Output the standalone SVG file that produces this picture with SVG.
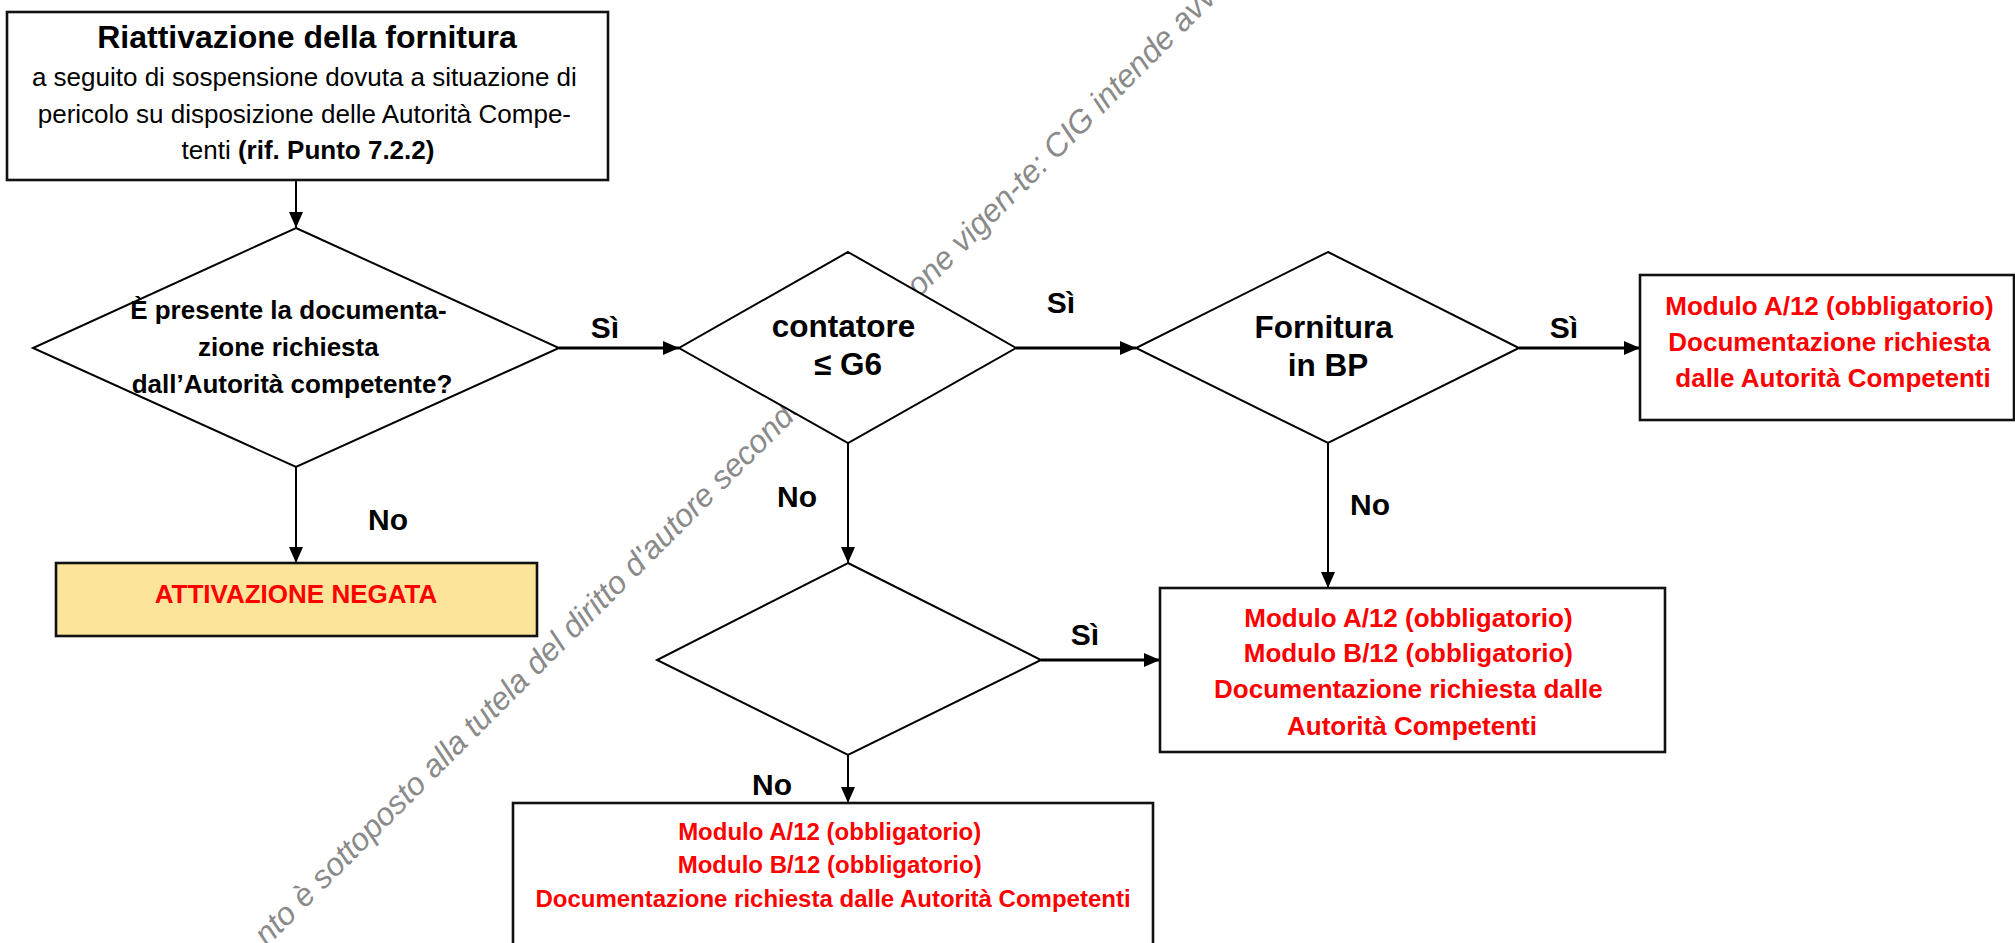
<svg xmlns="http://www.w3.org/2000/svg" width="2015" height="943" viewBox="0 0 2015 943">
  <style>
    .box { fill: #ffffff; stroke: #111111; stroke-width: 2.6; }
    .yellow { fill: #FDE49B; stroke: #111111; stroke-width: 2.6; }
    .dia { fill: #ffffff; stroke: #000000; stroke-width: 2; }
    .t { font-family: 'Liberation Sans', Arial, sans-serif; text-anchor: middle; fill: #000000; }
    .b { font-weight: bold; }
    .red { fill: #FF0000; }
    .lbl { font-family: 'Liberation Sans', Arial, sans-serif; font-weight: bold; font-size: 30px; text-anchor: middle; fill: #000000; }
    .wm { font-family: 'Liberation Sans', Arial, sans-serif; font-style: italic; font-size: 32px; fill: #8a8a8a; }
    .v { stroke: #000000; stroke-width: 2; fill: none; marker-end: url(#arr); }
    .h { stroke: #000000; stroke-width: 3; fill: none; marker-end: url(#arr); }
  </style>
  <defs>
    <marker id="arr" markerUnits="userSpaceOnUse" markerWidth="18" markerHeight="16" refX="16" refY="7" orient="auto">
      <path d="M0,0 L16,7 L0,14 z" fill="#000000"/>
    </marker>
  </defs>

  <rect width="2015" height="943" fill="#ffffff"/>

  <!-- watermark (behind nodes) -->
  <g id="watermark">
    <text class="wm" transform="translate(267,947) rotate(-45)">nto è sottoposto alla tutela del diritto d'autore secondo</text>
    <text class="wm" transform="translate(919,298) rotate(-45)">one vigen-te: CIG intende avva</text>
  </g>

  <g id="connectors">
    <line class="v" x1="296" y1="180" x2="296" y2="228"/>
    <line class="h" x1="559" y1="348" x2="679" y2="348"/>
    <line class="v" x1="296" y1="467" x2="296" y2="563"/>
    <line class="h" x1="1016" y1="348" x2="1136" y2="348"/>
    <line class="v" x1="848" y1="443" x2="848" y2="563"/>
    <line class="h" x1="1519" y1="348" x2="1640" y2="348"/>
    <line class="v" x1="1328" y1="443" x2="1328" y2="588"/>
    <line class="h" x1="1041" y1="660" x2="1160" y2="660"/>
    <line class="v" x1="848" y1="755" x2="848" y2="803"/>
    <text class="lbl" x="605" y="338">Sì</text>
    <text class="lbl" x="388" y="530">No</text>
    <text class="lbl" x="1061" y="313">Sì</text>
    <text class="lbl" x="797" y="507">No</text>
    <text class="lbl" x="1564" y="338">Sì</text>
    <text class="lbl" x="1370" y="515">No</text>
    <text class="lbl" x="1085" y="645">Sì</text>
    <text class="lbl" x="772" y="795">No</text>
  </g>

  <g id="start">
    <rect class="box" x="7" y="12" width="601" height="168"/>
    <text class="t b" x="307" y="48" font-size="32">Riattivazione della fornitura</text>
    <text class="t" font-size="26">
      <tspan x="308" y="86">a seguito di sospensione dovuta a situazione di</tspan>
      <tspan x="308" y="123">pericolo su disposizione delle Autorità Compe-</tspan>
      <tspan x="308" y="159">tenti <tspan font-weight="bold">(rif. Punto 7.2.2)</tspan></tspan>
    </text>
  </g>

  <g id="q-documentazione">
    <polygon class="dia" points="296,228 559,348 296,467 33,348"/>
    <text class="t b" font-size="26">
      <tspan x="292" y="319">È presente la documenta-</tspan>
      <tspan x="292" y="356">zione richiesta</tspan>
      <tspan x="292" y="393">dall’Autorità competente?</tspan>
    </text>
  </g>

  <g id="q-contatore">
    <polygon class="dia" points="848,252 1016,348 848,443 679,348"/>
    <text class="t b" font-size="31.5">
      <tspan x="848" y="337">contatore</tspan>
      <tspan x="848" y="375">≤ G6</tspan>
    </text>
  </g>

  <g id="q-fornitura">
    <polygon class="dia" points="1328,252 1519,348 1328,443 1136,348"/>
    <text class="t b" font-size="31.5">
      <tspan x="1328" y="338">Fornitura</tspan>
      <tspan x="1328" y="376">in BP</tspan>
    </text>
  </g>

  <g id="q-empty">
    <polygon class="dia" points="848,563 1041,660 848,755 657,660"/>
  </g>

  <g id="negata">
    <rect class="yellow" x="56" y="563" width="481" height="73"/>
    <text class="t b red" x="296" y="603" font-size="26">ATTIVAZIONE NEGATA</text>
  </g>

  <g id="out-bp">
    <rect class="box" x="1640" y="275" width="374" height="145"/>
    <text class="t b red" font-size="26">
      <tspan x="1833" y="315">Modulo A/12 (obbligatorio)</tspan>
      <tspan x="1833" y="351">Documentazione richiesta</tspan>
      <tspan x="1833" y="387">dalle Autorità Competenti</tspan>
    </text>
  </g>

  <g id="out-ab">
    <rect class="box" x="1160" y="588" width="505" height="164"/>
    <text class="t b red" font-size="26">
      <tspan x="1412" y="627">Modulo A/12 (obbligatorio)</tspan>
      <tspan x="1412" y="662">Modulo B/12 (obbligatorio)</tspan>
      <tspan x="1412" y="698">Documentazione richiesta dalle</tspan>
      <tspan x="1412" y="735">Autorità Competenti</tspan>
    </text>
  </g>

  <g id="out-bottom">
    <rect class="box" x="513" y="803" width="640" height="150"/>
    <text class="t b red" font-size="24">
      <tspan x="833" y="840">Modulo A/12 (obbligatorio)</tspan>
      <tspan x="833" y="873">Modulo B/12 (obbligatorio)</tspan>
      <tspan x="833" y="907">Documentazione richiesta dalle Autorità Competenti</tspan>
    </text>
  </g>
</svg>
